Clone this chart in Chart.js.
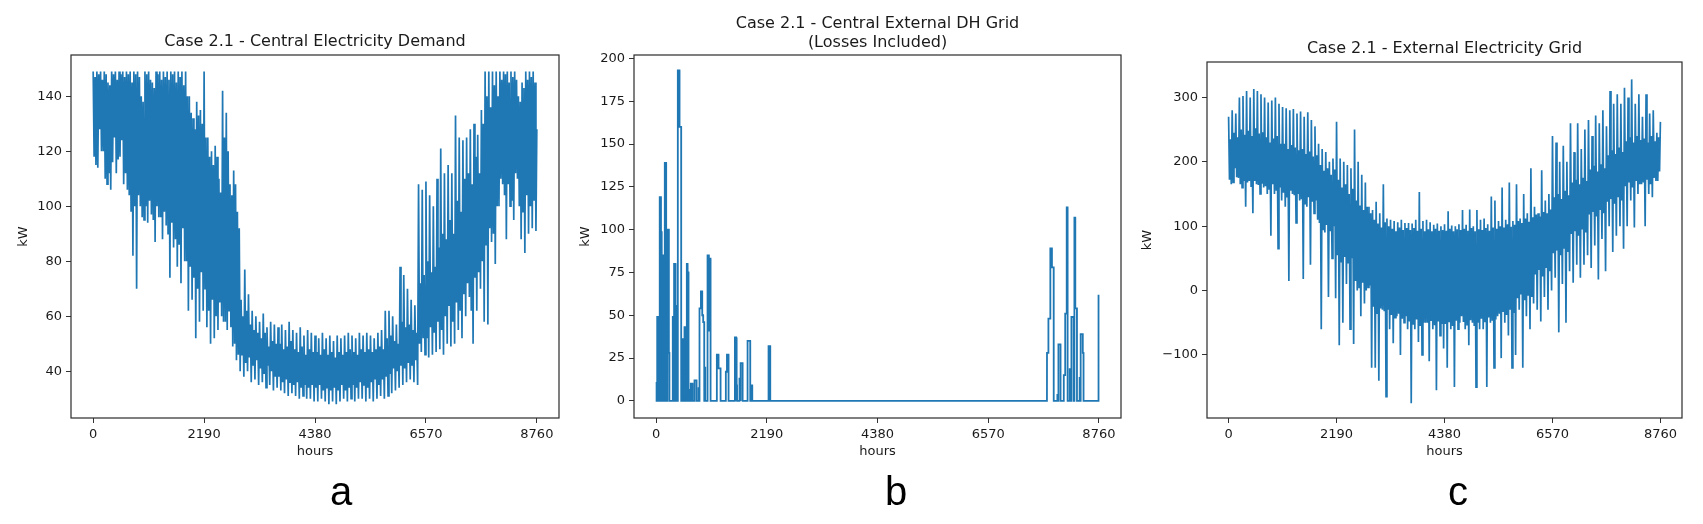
<!DOCTYPE html>
<html lang="en">
<head>
  <meta charset="UTF-8" />
  <title>Case 2.1 - hourly profiles</title>
  <script src="https://cdn.jsdelivr.net/npm/chart.js"></script>
  <style>
    html, body { margin: 0; padding: 0; background: #fff; }
    body { width: 1703px; height: 524px; position: relative; overflow: hidden; }
    .panel { position: absolute; top: 0; height: 470px; }
    .letter {
      position: absolute; top: 471px; transform: translateX(-50%);
      font-family: "Liberation Sans", Arial, sans-serif; font-size: 40px; line-height: 40px; color: #000;
    }
  </style>
</head>
<body>
  <div class="panel" style="left:0;width:575px"><canvas id="chartA"></canvas></div>
  <div class="panel" style="left:575px;width:565px"><canvas id="chartB"></canvas></div>
  <div class="panel" style="left:1130px;width:573px"><canvas id="chartC"></canvas></div>

  <div class="letter" style="left:341px">a</div>
  <div class="letter" style="left:896px">b</div>
  <div class="letter" style="left:1458px">c</div>

  <script>
    // shared axis ticks
    const hourTicks = [0, 2190, 4380, 6570, 8760];
    const ticksA = [40, 60, 80, 100, 120, 140];
    const ticksB = [0, 25, 50, 75, 100, 125, 150, 175, 200];
    const ticksC = [-100, 0, 100, 200, 300];

    // readings, per 73 h block: spike high, spike low,
    // and the upper / lower edge of the dense core band
    const stepHours = 73;

    // a - central electricity demand (kW)
    const highA = [
      149,149,149,149,145,149,149,149,149,149,
      149,149,149,140,149,149,145,149,149,149,
      149,149,149,149,149,149,140,132,138,135,
      149,125,120,122,110,142,134,108,113,98,
      66,77,68,62,60,58,61,56,58,57,
      56,57,55,58,55,54,56,53,55,54,
      53,52,54,52,53,51,53,52,53,54,
      53,52,54,53,54,53,52,54,55,62,
      62,60,57,78,75,70,66,64,108,106,
      109,104,100,110,121,112,115,112,133,125,
      124,125,128,130,126,135,149,149,149,149,
      149,149,149,149,149,140,145,149,149,149,
      128
    ];
    const lowA = [
      115,128,120,108,106,125,117,124,112,104,
      82,70,100,95,94,97,87,96,88,93,
      74,85,78,72,80,62,66,52,58,62,
      56,50,52,55,60,58,62,49,44,40,
      38,40,36,37,35,36,34,35,33,34,
      33,32,31,32,31,30,31,30,30,29,
      29,30,29,28,29,28,29,30,29,30,
      29,30,30,29,30,29,30,31,30,31,
      32,33,34,35,36,37,36,35,47,46,
      45,46,47,48,46,50,49,50,55,52,
      60,67,50,62,70,58,57,87,79,100,
      108,88,100,95,110,88,83,90,92,91
    ];
    const coreHighA = [
      147,148,146,148,144,148,146,148,147,148,
      145,148,147,138,148,146,143,148,146,147,
      146,148,145,147,144,140,134,128,133,130,
      125,118,115,118,105,125,120,104,108,92,
      60,62,57,55,54,52,54,49,51,50,
      50,48,49,51,48,47,49,46,48,47,
      47,46,48,46,47,45,47,46,47,48,
      47,46,48,47,48,47,48,49,48,52,
      53,51,50,58,56,57,55,54,72,75,
      80,76,78,85,90,88,95,90,102,98,
      110,112,108,118,112,130,140,136,144,140,
      146,148,145,147,146,138,143,146,147,145
    ];
    const coreLowA = [
      118,114,120,110,112,116,112,118,108,106,
      98,100,104,96,100,102,95,100,96,98,
      90,94,88,86,92,80,78,74,70,76,
      70,62,66,60,65,58,55,56,50,46,
      46,43,45,42,44,41,39,42,40,38,
      38,36,37,36,35,36,34,35,34,35,
      34,35,33,34,33,34,33,35,33,34,
      35,34,36,35,34,36,37,35,37,38,
      39,41,40,42,41,43,42,44,50,52,
      52,56,54,58,55,60,64,58,65,62,
      68,72,62,74,76,80,86,92,90,100,
      110,104,108,102,112,100,98,104,100,102
    ];

    // b - central external DH grid, losses included (hour, kW)
    const hoursB = [
      0,1,12,13, 20,21,45,46, 70,71,95,96, 104,105,115,116, 128,129,150,151,
      170,171,198,199, 222,223,251,252,262,263, 328,329,340,341, 354,355,383,384,
      398,399,410,411, 428,429,462,463,495,496, 514,515,541,542, 560,561,581,582,
      606,607,622,623,640,641, 659,660,663,664, 685,686,720,721, 758,759,799,800,
      836,837,840,841, 857,858,885,886,911,912,930,931,951,952, 968,969,972,973,
      1016,1017,1043,1044,1055,1056,1076,1077, 1200,1201,1234,1235,1274,1275,
      1378,1379,1400,1401,1432,1433, 1557,1558,1584,1585, 1596,1597,1600,1601,
      1648,1649,1660,1661, 1676,1677,1710,1711, 1808,1809,1861,1862,
      1880,1881,1901,1902, 2223,2224,2257,2258,
      7732,7733,7760,7761,7798,7799,7830,7831,7865,7866, 7933,7934,7940,7941,
      7958,7959,8000,8001, 8064,8065,8092,8093,8122,8123,8140,8141,
      8176,8177,8185,8186, 8215,8216,8260,8261, 8274,8275,8292,8293,8325,8326,
      8374,8375,8380,8381, 8398,8399,8440,8441,8455,8456, 8745,8746,8759
    ];
    const kwB = [
      0,11,11,0, 0,49,49,0, 0,119,119,0, 0,99,99,0, 0,85,85,0,
      0,139,139,0, 0,100,100,28,28,0, 0,49,49,0, 0,80,80,0,
      0,56,56,0, 0,193,193,160,160,0, 0,36,36,0, 0,43,43,0,
      0,80,80,75,75,0, 0,7,7,0, 0,10,10,0, 0,12,12,0,
      0,8,8,0, 0,54,54,64,64,50,50,46,46,0, 0,20,20,0,
      0,85,85,41,41,83,83,0, 0,27,27,19,19,0,
      0,17,17,27,27,0, 0,37,37,0, 0,9,9,0,
      0,13,13,0, 0,22,22,0, 0,35,35,0,
      0,9,9,0, 0,32,32,0,
      0,28,28,48,48,89,89,78,78,0, 0,4,4,0,
      0,33,33,0, 0,15,15,51,51,113,113,0,
      0,19,19,0, 0,49,49,0, 0,107,107,54,54,0,
      0,14,14,0, 0,39,39,28,28,0, 0,62,62
    ];

    // c - external electricity grid (kW)
    const highC = [
      270,280,275,300,302,310,300,313,310,305,
      300,292,295,300,290,285,283,280,282,275,
      278,270,277,265,255,228,220,215,200,205,
      262,205,200,195,190,250,200,180,168,130,
      125,138,120,165,112,110,108,106,110,105,
      105,104,110,153,108,110,106,102,104,100,
      103,123,101,100,103,125,102,126,100,125,
      110,112,103,146,140,108,160,110,168,108,
      165,112,150,120,190,130,120,187,140,150,
      240,230,200,225,200,260,215,260,220,250,
      265,240,272,260,280,255,310,290,305,290,
      315,300,328,290,305,270,305,275,280,245,
      262
    ];
    const lowC = [
      165,190,175,160,130,170,120,165,150,160,
      150,85,150,65,140,130,15,150,105,140,
      18,130,40,120,110,-60,90,-10,50,-12,
      -85,-50,10,-60,-83,0,-40,-20,5,-120,
      -120,-140,-30,-165,-60,-82,-40,-100,-50,-60,
      -175,-60,-80,-100,-50,-110,-60,-155,-70,-90,
      -120,-60,-150,-60,-40,-60,-85,-50,-150,-60,
      -60,-150,-50,-120,-40,-105,-50,-70,-120,-100,
      -30,-120,-40,-60,-20,-30,-48,-10,-30,0,
      20,-65,10,-50,30,12,40,20,40,55,
      35,70,17,80,30,100,60,85,100,65,
      100,140,98,150,165,100,150,145,170,185
    ];
    const coreHighC = [
      235,245,238,250,242,248,240,252,244,246,
      238,230,236,240,228,228,220,226,222,218,
      220,212,216,208,210,195,186,190,180,188,
      172,160,165,150,158,140,132,125,130,120,
      110,104,98,106,100,96,92,98,94,97,
      94,97,93,96,92,95,92,96,93,94,
      93,96,92,95,94,96,93,97,92,95,
      94,97,93,98,96,100,98,103,99,102,
      108,105,112,107,114,118,115,122,120,126,
      145,150,142,155,148,168,172,165,175,170,
      188,194,185,196,190,210,218,212,222,215,
      232,238,230,240,234,236,230,240,232,238
    ];
    const coreLowC = [
      172,168,176,165,170,168,162,170,164,166,
      162,158,165,155,160,152,146,155,148,150,
      142,135,145,138,140,105,95,102,92,100,
      55,45,52,42,50,15,5,12,0,8,
      -25,-35,-28,-32,-30,-38,-42,-36,-44,-40,
      -48,-52,-45,-55,-50,-50,-46,-54,-48,-52,
      -52,-48,-55,-47,-50,-49,-53,-46,-55,-50,
      -44,-48,-42,-47,-45,-36,-32,-38,-30,-35,
      -12,-5,-15,-8,-10,25,32,22,35,30,
      58,62,55,65,60,88,92,85,95,90,
      118,122,115,125,120,138,142,135,145,140,
      162,168,160,170,165,168,172,165,175,170
    ];

    const FONT = "'DejaVu Sans', sans-serif";
    const LINE = '#1f77b4';
    const INK = '#1a1a1a';

    // each block: spike high, core low, core high, spike low
    const blockPoints = (high, low, coreHigh, coreLow) => {
      const pts = [];
      high.forEach((v, i) => {
        const t = i * stepHours;
        pts.push({ x: Math.min(t, 8759), y: v });
        if (i < low.length) {
          pts.push({ x: t + stepHours * 0.25, y: coreLow[i] });
          pts.push({ x: t + stepHours * 0.5, y: coreHigh[i] });
          pts.push({ x: t + stepHours * 0.75, y: low[i] });
        }
      });
      return pts;
    };

    const framePlugin = {
      id: 'frame',
      afterDraw(chart) {
        const { ctx, chartArea: { left, top, right, bottom } } = chart;
        ctx.save();
        ctx.strokeStyle = '#2b2b2b';
        ctx.lineWidth = 1.2;
        ctx.strokeRect(left, top, right - left, bottom - top);
        ctx.restore();
      }
    };

    const fmt = v => (v < 0 ? '\u2212' + Math.abs(v) : String(v));

    const makePanel = (id, cfg) => new Chart(document.getElementById(id), {
      type: 'line',
      data: {
        datasets: [{
          data: cfg.points,
          borderColor: LINE,
          borderWidth: cfg.lineWidth,
          pointRadius: 0,
          tension: 0,
          fill: false
        }]
      },
      options: {
        responsive: true,
        maintainAspectRatio: false,
        animation: false,
        layout: { padding: { left: 0, right: cfg.padRight, top: 0, bottom: 0 } },
        plugins: {
          legend: { display: false },
          tooltip: { enabled: false },
          title: {
            display: true,
            fullSize: false,
            text: cfg.title,
            color: INK,
            font: { family: FONT, size: 16, weight: 'normal', lineHeight: 1.2 },
            padding: { top: cfg.titleTop, bottom: cfg.titleBottom }
          }
        },
        scales: {
          x: {
            type: 'linear',
            min: -438,
            max: 9197,
            afterBuildTicks: s => { s.ticks = hourTicks.map(v => ({ value: v })); },
            afterFit: s => { s.height = 52; },
            ticks: { color: INK, font: { family: FONT, size: 13 }, padding: 4, maxRotation: 0, autoSkip: false, callback: fmt },
            grid: { drawOnChartArea: false, drawTicks: true, tickLength: 5, color: '#333' },
            border: { display: false },
            title: { display: true, text: 'hours', color: INK, font: { family: FONT, size: 13 }, padding: { top: 0, bottom: 10.2 } }
          },
          y: {
            min: cfg.yMin,
            max: cfg.yMax,
            afterBuildTicks: s => { s.ticks = cfg.yTicks.map(v => ({ value: v })); },
            afterFit: s => { s.width = cfg.yWidth; },
            ticks: { color: INK, font: { family: FONT, size: 13 }, padding: 4, callback: fmt, autoSkip: false },
            grid: { drawOnChartArea: false, drawTicks: true, tickLength: 5, color: '#333' },
            border: { display: false },
            title: { display: true, text: 'kW', color: INK, font: { family: FONT, size: 13 }, padding: { top: cfg.kwPad, bottom: 0 } }
          }
        }
      },
      plugins: [framePlugin]
    });

    makePanel('chartA', {
      points: blockPoints(highA, lowA, coreHighA, coreLowA),
      lineWidth: 1.7,
      title: 'Case 2.1 - Central Electricity Demand',
      titleTop: 32.4, titleBottom: 3.4,
      padRight: 16,
      yMin: 23, yMax: 155, yTicks: ticksA,
      yWidth: 71, kwPad: 15.7
    });

    makePanel('chartB', {
      points: hoursB.map((h, i) => ({ x: h, y: kwB[i] })),
      lineWidth: 1.8,
      title: ['Case 2.1 - Central External DH Grid', '(Losses Included)'],
      titleTop: 14.4, titleBottom: 2.2,
      padRight: 19,
      yMin: -10, yMax: 202, yTicks: ticksB,
      yWidth: 59, kwPad: 3.2
    });

    makePanel('chartC', {
      points: blockPoints(highC, lowC, coreHighC, coreLowC),
      lineWidth: 1.7,
      title: 'Case 2.1 - External Electricity Grid',
      titleTop: 39.4, titleBottom: 3.4,
      padRight: 21,
      yMin: -198, yMax: 355, yTicks: ticksC,
      yWidth: 77, kwPad: 10.2
    });
  </script>
</body>
</html>
